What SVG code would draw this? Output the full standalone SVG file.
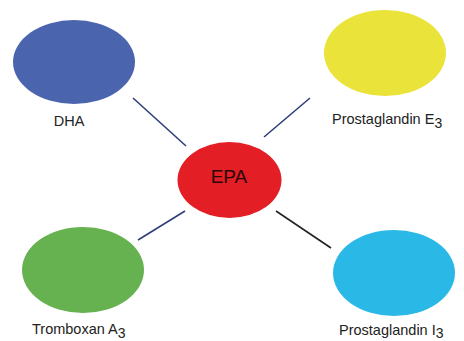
<svg xmlns="http://www.w3.org/2000/svg" width="464" height="341" viewBox="0 0 464 341">
<style>
text{font-family:"Liberation Sans",Arial,sans-serif;font-size:14.5px;fill:#222}
.sub{font-size:14px}
.c{stroke-width:1.6;fill:none}
</style>
<rect width="464" height="341" fill="#fff"/>
<g id="connectors">
<line class="c" x1="133" y1="98" x2="186" y2="146" stroke="#2e3f7a"/>
<line class="c" x1="310" y1="98" x2="264" y2="137" stroke="#2e3f7a"/>
<line class="c" x1="138" y1="240" x2="185" y2="211" stroke="#2e3f7a"/>
<line class="c" x1="276" y1="211" x2="331" y2="248" stroke="#222"/>
</g>
<g id="dha">
<ellipse cx="74" cy="62" rx="61" ry="42" fill="#4a64ae"/>
<text x="69" y="126" text-anchor="middle">DHA</text>
</g>
<g id="pge3">
<ellipse cx="385" cy="53" rx="61" ry="43" fill="#e9e33a"/>
<text x="332" y="124">Prostaglandin E<tspan class="sub" dy="4">3</tspan></text>
</g>
<g id="epa">
<ellipse cx="229.5" cy="180" rx="52" ry="38" fill="#e31e25"/>
<text x="229" y="183" text-anchor="middle" style="font-size:19px;fill:#2a0808">EPA</text>
</g>
<g id="txa3">
<ellipse cx="83" cy="270" rx="61" ry="43" fill="#67b250"/>
<text x="32" y="334">Tromboxan A<tspan class="sub" dy="4">3</tspan></text>
</g>
<g id="pgi3">
<ellipse cx="394" cy="273" rx="61" ry="43" fill="#2ab9e6"/>
<text x="339" y="335">Prostaglandin I<tspan class="sub" dy="3">3</tspan></text>
</g>
</svg>
